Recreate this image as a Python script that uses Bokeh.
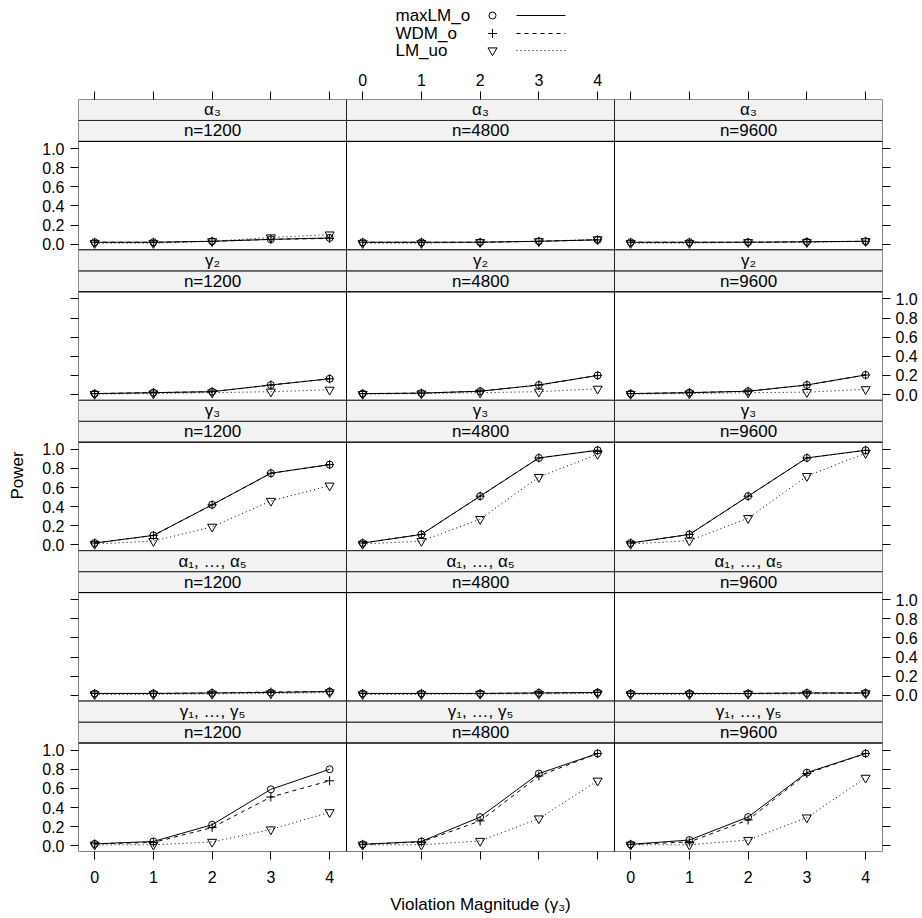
from bokeh.plotting import figure
from bokeh.models import Range1d, LinearAxis, FixedTicker
from bokeh.layouts import column
from bokeh.embed import file_html
from bokeh.resources import INLINE
from bokeh.core.properties import value

# ---------------- data ----------------
magnitudes = [0, 1, 2, 3, 4]
x_tick_labels = ["0", "1", "2", "3", "4"]
y_tick_values = [0.0, 0.2, 0.4, 0.6, 0.8, 1.0]
y_tick_labels = ["0.0", "0.2", "0.4", "0.6", "0.8", "1.0"]
params = ["α₃", "γ₂", "γ₃", "α₁, …, α₅", "γ₁, …, γ₅"]
sample_sizes = ["n=1200", "n=4800", "n=9600"]
methods = ["maxLM_o", "WDM_o", "LM_uo"]

# rows: n=1200, n=4800, n=9600
maxLM_alpha3 = [[0.02, 0.02, 0.03, 0.05, 0.065],
                [0.02, 0.02, 0.02, 0.03, 0.045],
                [0.02, 0.02, 0.02, 0.025, 0.03]]
WDM_alpha3 = [[0.02, 0.02, 0.03, 0.05, 0.06],
              [0.02, 0.02, 0.02, 0.03, 0.045],
              [0.02, 0.02, 0.02, 0.025, 0.03]]
LMuo_alpha3 = [[0.01, 0.01, 0.03, 0.07, 0.10],
               [0.01, 0.01, 0.02, 0.03, 0.05],
               [0.01, 0.01, 0.02, 0.02, 0.03]]

maxLM_gamma2 = [[0.01, 0.02, 0.03, 0.10, 0.165],
                [0.01, 0.015, 0.035, 0.10, 0.20],
                [0.01, 0.02, 0.035, 0.10, 0.205]]
WDM_gamma2 = [[0.01, 0.02, 0.03, 0.10, 0.165],
              [0.01, 0.015, 0.035, 0.10, 0.20],
              [0.01, 0.02, 0.035, 0.10, 0.205]]
LMuo_gamma2 = [[0.005, 0.01, 0.02, 0.03, 0.05],
               [0.005, 0.01, 0.02, 0.03, 0.06],
               [0.005, 0.01, 0.02, 0.025, 0.055]]

maxLM_gamma3 = [[0.02, 0.10, 0.42, 0.75, 0.84],
                [0.02, 0.11, 0.51, 0.91, 0.99],
                [0.02, 0.11, 0.51, 0.91, 0.99]]
WDM_gamma3 = [[0.02, 0.10, 0.42, 0.75, 0.84],
              [0.02, 0.11, 0.51, 0.91, 0.99],
              [0.02, 0.11, 0.51, 0.91, 0.99]]
LMuo_gamma3 = [[0.01, 0.04, 0.19, 0.46, 0.62],
               [0.01, 0.04, 0.27, 0.71, 0.95],
               [0.01, 0.045, 0.28, 0.72, 0.96]]

maxLM_alpha15 = [[0.02, 0.02, 0.025, 0.03, 0.04],
                 [0.02, 0.02, 0.02, 0.025, 0.03],
                 [0.02, 0.02, 0.02, 0.025, 0.025]]
WDM_alpha15 = [[0.02, 0.02, 0.025, 0.035, 0.04],
               [0.02, 0.02, 0.02, 0.025, 0.03],
               [0.02, 0.02, 0.02, 0.025, 0.025]]
LMuo_alpha15 = [[0.01, 0.01, 0.015, 0.02, 0.03],
                [0.01, 0.01, 0.015, 0.015, 0.02],
                [0.01, 0.01, 0.015, 0.015, 0.02]]

maxLM_gamma15 = [[0.02, 0.045, 0.22, 0.59, 0.80],
                 [0.015, 0.045, 0.30, 0.755, 0.965],
                 [0.015, 0.06, 0.30, 0.765, 0.965]]
WDM_gamma15 = [[0.02, 0.035, 0.19, 0.51, 0.68],
               [0.015, 0.04, 0.26, 0.73, 0.965],
               [0.015, 0.04, 0.27, 0.755, 0.965]]
LMuo_gamma15 = [[0.01, 0.01, 0.04, 0.17, 0.35],
                [0.01, 0.01, 0.05, 0.285, 0.68],
                [0.01, 0.01, 0.06, 0.295, 0.71]]

series_by_param = [
    (maxLM_alpha3, WDM_alpha3, LMuo_alpha3),
    (maxLM_gamma2, WDM_gamma2, LMuo_gamma2),
    (maxLM_gamma3, WDM_gamma3, LMuo_gamma3),
    (maxLM_alpha15, WDM_alpha15, LMuo_alpha15),
    (maxLM_gamma15, WDM_gamma15, LMuo_gamma15),
]

# ---------------- style / layout ----------------
FONT = "Liberation Sans"
FS = "17px"
TICK_FS = "16px"
STRIP_BG = "#f2f2f2"
markers = ["circle", "cross", "inverted_triangle"]
marker_sizes = [7, 9, 9]
dashes = ["solid", "4 4", "1 3"]

W = 4.5625     # width of one panel in x data units
X0 = -0.275    # x start of a panel
H = 1.5726     # height of one row (panel + 2 strips) in y data units
Y0 = -0.06     # y start of a panel
P = 1.1345     # panel height
S = (H - P) / 2  # strip height
LEFT = 78
FRAME_W = 804

p = figure(frame_width=FRAME_W, frame_height=752,
           x_range=Range1d(X0, X0 + 3 * W), y_range=Range1d(Y0, Y0 + 5 * H),
           x_axis_location=None, y_axis_location=None,
           output_backend="svg", toolbar_location=None,
           min_border_left=LEFT, min_border_right=36,
           min_border_top=31, min_border_bottom=64,
           outline_line_color=None, background_fill_color="white", align="start")
p.xgrid.visible = False
p.ygrid.visible = False

p.extra_x_ranges = {f"c{c}": Range1d(X0 - c * W, X0 - c * W + 3 * W) for c in range(3)}
p.extra_y_ranges = {f"r{r}": Range1d(Y0 - (4 - r) * H, Y0 - (4 - r) * H + 5 * H) for r in range(5)}

for r in range(5):
    for c in range(3):
        kw = dict(x_range_name=f"c{c}", y_range_name=f"r{r}")
        # strips
        p.quad(left=[X0, X0], right=[X0 + W, X0 + W],
               bottom=[Y0 + P, Y0 + P + S], top=[Y0 + P + S, Y0 + H],
               fill_color=STRIP_BG, line_color="#222222", line_width=1, **kw)
        p.text(x=[X0 + W / 2, X0 + W / 2], y=[Y0 + P + S / 2, Y0 + P + 1.5 * S],
               text=[sample_sizes[c], params[r]],
               text_align="center", text_baseline="middle",
               text_font=value(FONT), text_font_size=FS, text_color="black", **kw)
        # panel border
        p.quad(left=[X0], right=[X0 + W], bottom=[Y0], top=[Y0 + P],
               fill_color=None, line_color="black", line_width=1, **kw)
        # data
        for m in range(3):
            yv = series_by_param[r][m][c]
            p.line(magnitudes, yv, line_color="black", line_width=1,
                   line_dash=dashes[m], **kw)
        for m in range(3):
            yv = series_by_param[r][m][c]
            p.scatter(magnitudes, yv, marker=markers[m], size=marker_sizes[m],
                      line_color="black", fill_color=None, line_width=1, **kw)

# ---------------- axes ----------------
xt, xlab_bottom, xlab_top = [], {}, {}
for c in range(3):
    for k, lab in zip(magnitudes, x_tick_labels):
        t = float(k + c * W)
        xt.append(t)
        xlab_bottom[t] = lab if c != 1 else ""
        xlab_top[t] = lab if c == 1 else ""

yt, ylab_left, ylab_right = [], {}, {}
for r in range(5):
    for v, lab in zip(y_tick_values, y_tick_labels):
        t = float(v + (4 - r) * H)
        yt.append(t)
        ylab_left[t] = lab if r % 2 == 0 else ""
        ylab_right[t] = lab if r % 2 == 1 else ""


def make_axis(ticks, labels, **extra):
    return LinearAxis(ticker=FixedTicker(ticks=ticks), major_label_overrides=labels,
                      axis_line_color=None, major_tick_in=0, major_tick_out=8,
                      major_tick_line_color="black", minor_tick_line_color=None,
                      major_label_text_font=FONT, major_label_text_font_size=TICK_FS,
                      major_label_text_color="black",
                      axis_label_text_font=FONT, axis_label_text_font_size=FS,
                      axis_label_text_font_style="normal", axis_label_text_color="black",
                      **extra)


p.add_layout(make_axis(xt, xlab_bottom, axis_label="Violation Magnitude (γ₃)",
                       axis_label_standoff=9, major_label_standoff=11), "below")
p.add_layout(make_axis(xt, xlab_top, major_label_standoff=6), "above")
p.add_layout(make_axis(yt, ylab_left, axis_label="Power",
                       axis_label_standoff=12, major_label_standoff=6), "left")
p.add_layout(make_axis(yt, ylab_right, major_label_standoff=5), "right")

# ---------------- legend (key above) ----------------
# the key's frame is aligned with the main frame by the layout, so its
# x range is expressed in page pixels starting at the main frame's left edge
leg = figure(frame_width=FRAME_W, frame_height=68,
             x_range=Range1d(LEFT, LEFT + FRAME_W), y_range=Range1d(68, 0),
             x_axis_location=None, y_axis_location=None, min_border=0,
             outline_line_color=None, toolbar_location=None, output_backend="svg",
             align="start")
leg.xgrid.visible = False
leg.ygrid.visible = False
key_y = [15, 33, 50]
leg.text(x=[395] * 3, y=key_y, text=methods, text_align="left", text_baseline="middle",
         text_font=value(FONT), text_font_size=FS, text_color="black")
for m in range(3):
    leg.scatter([492], [key_y[m]], marker=markers[m], size=marker_sizes[m],
                line_color="black", fill_color=None, line_width=1)
    leg.segment(x0=[516], y0=[key_y[m]], x1=[565], y1=[key_y[m]],
                line_color="black", line_width=1, line_dash=dashes[m])

layout = column(leg, p, spacing=0, align="start")
open("out.html", "w").write(file_html(layout, INLINE))
